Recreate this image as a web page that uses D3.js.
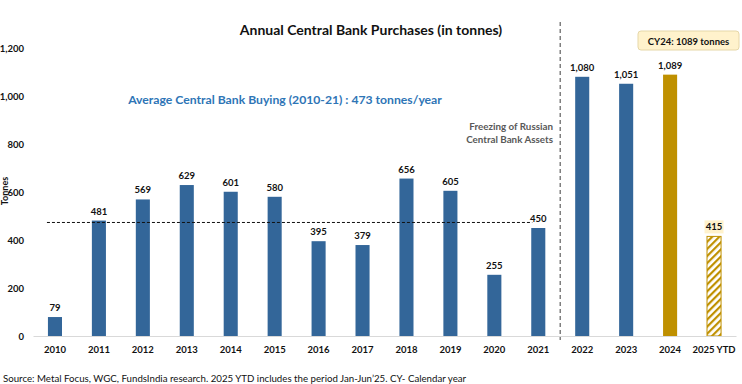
<!DOCTYPE html>
<html>
<head>
<meta charset="utf-8">
<script src="https://cdn.jsdelivr.net/npm/d3@7"></script>
<style>
  body { margin: 0; background: #fff; }
  svg text { font-family: Lato, "Open Sans", sans-serif; }
</style>
</head>
<body>
<div id="chart"></div>
<script>
// categories and values (tonnes)
const years = ['2010','2011','2012','2013','2014','2015','2016','2017','2018','2019','2020','2021','2022','2023','2024','2025 YTD'];
const purchases = [79, 481, 569, 629, 601, 580, 395, 379, 656, 605, 255, 450, 1080, 1051, 1089, 415];
const yTicks = [0, 200, 400, 600, 800, 1000, 1200];
const avgBuying = 473;

const width = 742, height = 384;
const blue = '#336699', gold = '#BF9000';

const svg = d3.select('#chart').append('svg')
    .attr('width', width)
    .attr('height', height);

// hatch for the partial year
const defs = svg.append('defs');
defs.append('pattern')
    .attr('id', 'hatch')
    .attr('patternUnits', 'userSpaceOnUse')
    .attr('width', 5).attr('height', 5)
    .attr('patternTransform', 'rotate(45)')
    .append('rect')
    .attr('width', 2.2).attr('height', 5)
    .attr('fill', gold);

const x = d3.scaleBand()
    .domain(years)
    .range([33, 736])
    .paddingInner(0.68)
    .paddingOuter(0.34);

const y = d3.scaleLinear()
    .domain([0, 1200])
    .range([336, 48]);

// title
svg.append('text')
    .attr('x', 371).attr('y', 35)
    .attr('text-anchor', 'middle')
    .attr('font-size', 14).attr('font-weight', 'bold')
    .attr('fill', '#111')
    .text('Annual Central Bank Purchases (in tonnes)');

// y axis (labels only)
const yAxis = d3.axisLeft(y).tickValues(yTicks).tickSize(0).tickPadding(0).tickFormat(d3.format(','));
svg.append('g')
    .attr('transform', 'translate(24,0)')
    .call(yAxis)
    .call(g => g.select('.domain').remove())
    .call(g => g.selectAll('text')
        .attr('font-family', 'Lato, sans-serif')
        .attr('font-size', 9.5).attr('font-weight', 'bold').attr('fill', '#111'));

svg.append('text')
    .attr('transform', 'translate(8,' + 191 + ') rotate(-90)')
    .attr('text-anchor', 'middle')
    .attr('font-size', 9).attr('font-weight', 'bold').attr('fill', '#111')
    .text('Tonnes');

// bars
svg.append('g').selectAll('rect')
    .data(years.map((d, i) => ({year: d, value: purchases[i], i: i})))
    .join('rect')
    .attr('x', d => x(d.year))
    .attr('width', x.bandwidth())
    .attr('y', d => y(d.value))
    .attr('height', d => y(0) - y(d.value))
    .attr('fill', d => d.i === 15 ? 'url(#hatch)' : (d.i === 14 ? gold : blue))
    .attr('stroke', d => d.i === 15 ? gold : 'none')
    .attr('stroke-width', 1);

// x axis
const xAxis = d3.axisBottom(x).tickSize(0).tickPadding(10);
svg.append('g')
    .attr('transform', 'translate(0,' + y(0) + ')')
    .call(xAxis)
    .call(g => g.select('.domain').attr('stroke', '#d9d9d9').attr('stroke-width', 1))
    .call(g => g.selectAll('text')
        .attr('font-family', 'Lato, sans-serif')
        .attr('font-size', 9.5).attr('font-weight', 'bold').attr('fill', '#111'));

// average line 2010-21
svg.append('line')
    .attr('x1', x('2010') - 1).attr('x2', x('2021') + 1)
    .attr('y1', y(avgBuying)).attr('y2', y(avgBuying))
    .attr('stroke', '#111').attr('stroke-width', 1)
    .attr('stroke-dasharray', '3,2');

// label bg for 2025 YTD
const lastX = x('2025 YTD') + x.bandwidth() / 2;
svg.append('rect')
    .attr('x', lastX - 9.5).attr('y', y(415) - 16)
    .attr('width', 19).attr('height', 13)
    .attr('fill', '#FFF2CC');

// value labels
svg.append('g').selectAll('text')
    .data(years.map((d, i) => ({year: d, value: purchases[i]})))
    .join('text')
    .attr('x', d => x(d.year) + x.bandwidth() / 2)
    .attr('y', d => y(d.value) - 6)
    .attr('text-anchor', 'middle')
    .attr('font-size', 9.5).attr('font-weight', 'bold').attr('fill', '#111')
    .text(d => d3.format(',')(d.value));

// separator between 2021 and 2022
const sepX = (x('2021') + x('2022') + x.bandwidth()) / 2;
svg.append('line')
    .attr('x1', sepX).attr('x2', sepX)
    .attr('y1', 22).attr('y2', 340)
    .attr('stroke', '#7f7f7f').attr('stroke-width', 1.5)
    .attr('stroke-dasharray', '4,3');

// annotations
svg.append('text')
    .attr('x', 285).attr('y', 104)
    .attr('text-anchor', 'middle')
    .attr('font-size', 12.2).attr('font-weight', 'bold').attr('fill', '#2E75B6')
    .text('Average Central Bank Buying (2010-21) : 473 tonnes/year');

const freeze = svg.append('text')
    .attr('text-anchor', 'end')
    .attr('font-size', 9.8).attr('font-weight', 'bold').attr('fill', '#595959');
freeze.append('tspan').attr('x', 553).attr('y', 130).text('Freezing of Russian');
freeze.append('tspan').attr('x', 553).attr('y', 143).text('Central Bank Assets');

// CY24 callout
svg.append('rect')
    .attr('x', 638).attr('y', 31)
    .attr('width', 101).attr('height', 19)
    .attr('rx', 3)
    .attr('fill', '#FFF2CC').attr('stroke', '#E6D7A8').attr('stroke-width', 1);
svg.append('text')
    .attr('x', 688.5).attr('y', 44.5)
    .attr('text-anchor', 'middle')
    .attr('font-size', 9.5).attr('font-weight', 'bold').attr('fill', '#111')
    .text('CY24: 1089 tonnes');

// source
svg.append('text')
    .attr('x', 3).attr('y', 382)
    .attr('font-size', 9.7).attr('fill', '#111')
    .text('Source: Metal Focus, WGC, FundsIndia research. 2025 YTD includes the period Jan-Jun\u201925. CY- Calendar year');
</script>
</body>
</html>
